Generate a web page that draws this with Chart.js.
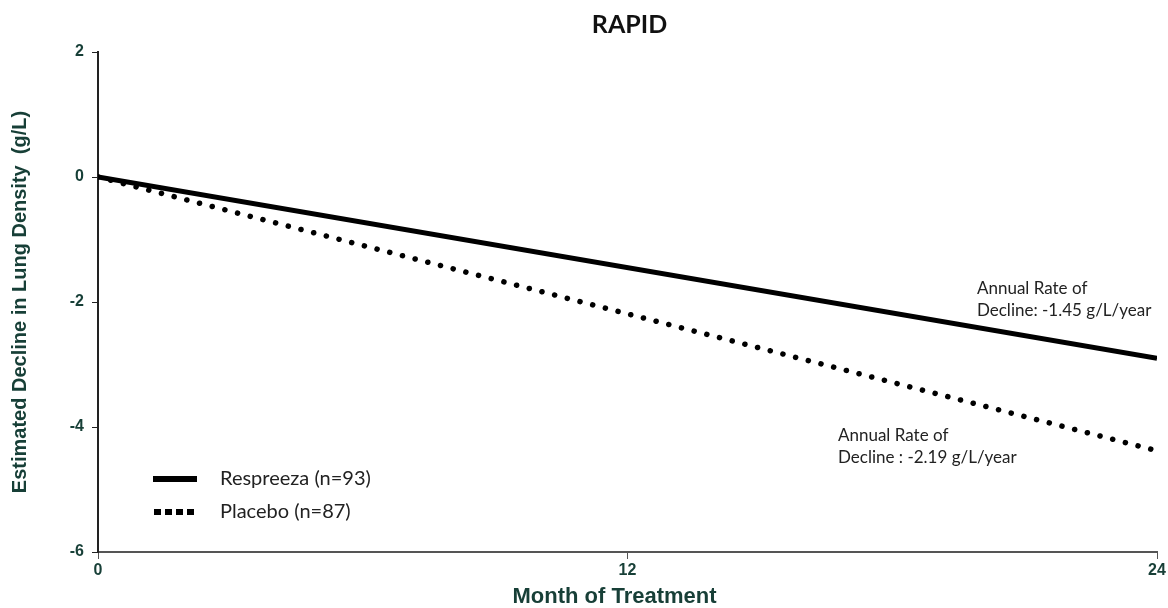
<!DOCTYPE html>
<html>
<head>
<meta charset="utf-8">
<script src="https://cdn.jsdelivr.net/npm/chart.js@4/dist/chart.umd.min.js"></script>
<style>
  html, body { margin: 0; padding: 0; background: #fff; }
  #wrap { width: 1168px; height: 608px; }
</style>
</head>
<body>
<div id="wrap"><canvas id="chart" width="1168" height="608"></canvas></div>
<script>
// Months of treatment (x) and estimated decline (g/L)
const months = [0, 24];
const respreeza = [0, -2.9];
const placebo = [0, -4.38];
const seriesLabels = ['Respreeza (n=93)', 'Placebo (n=87)'];
const xTicks = [0, 12, 24];
const yTicks = [2, 0, -2, -4, -6];
const chartTitle = 'RAPID';
const xTitle = 'Month of Treatment';

// text notes, anchored at data coordinates (middle of first line)
const notes = [
  { x: 19.92, y: -1.78, lines: ['Annual Rate of', 'Decline: -1.45 g/L/year'] },
  { x: 16.77, y: -4.14, lines: ['Annual Rate of', 'Decline : -2.19 g/L/year'] }
];

const labelColor = '#173f37';
const bodyFont = "Lato, 'Open Sans', sans-serif";
const axisFont = "'Liberation Sans', Arial, sans-serif";

const notesPlugin = {
  id: 'notes',
  afterDatasetsDraw(chart) {
    const ctx = chart.ctx;
    const xs = chart.scales.x, ys = chart.scales.y;
    ctx.save();
    ctx.fillStyle = '#222';
    ctx.font = '17px ' + bodyFont;
    ctx.textAlign = 'left';
    ctx.textBaseline = 'middle';
    notes.forEach(n => {
      const px = xs.getPixelForValue(n.x);
      const py = ys.getPixelForValue(n.y);
      n.lines.forEach((t, i) => ctx.fillText(t, px, py + i * 22));
    });
    ctx.restore();
  }
};

// chart title and x axis title, centred a little off the plot area like the original
const titlePlugin = {
  id: 'plotTitle',
  afterDraw(chart) {
    const ctx = chart.ctx;
    const area = chart.chartArea;
    const mid = (area.left + area.right) / 2;
    ctx.save();
    ctx.textAlign = 'center';
    ctx.textBaseline = 'middle';
    ctx.fillStyle = '#111';
    ctx.font = 'bold 25px ' + bodyFont;
    ctx.fillText(chartTitle, mid + 2, 25);
    ctx.fillStyle = labelColor;
    ctx.font = 'bold 22px ' + axisFont;
    ctx.fillText(xTitle, mid - 13, 597);
    ctx.restore();
  }
};

// legend drawn inside the plot area, lower left
const insideLegend = {
  id: 'insideLegend',
  afterDatasetsDraw(chart) {
    const ctx = chart.ctx;
    const area = chart.chartArea;
    const x0 = area.left + 55, y0 = area.top + 427;
    ctx.save();
    chart.data.datasets.forEach((ds, i) => {
      const y = y0 + i * 33;
      ctx.strokeStyle = '#000';
      ctx.lineWidth = 6;
      if (i === 0) {
        ctx.beginPath();
        ctx.moveTo(x0, y);
        ctx.lineTo(x0 + 44, y);
        ctx.stroke();
      } else {
        ctx.fillStyle = '#000';
        for (let k = 0; k < 4; k++) ctx.fillRect(x0 + 1 + k * 11, y - 3, 7, 6);
      }
      ctx.fillStyle = '#222';
      ctx.font = '20px ' + bodyFont;
      ctx.textBaseline = 'middle';
      ctx.fillText(ds.label, x0 + 67, y);
    });
    ctx.restore();
  }
};

new Chart(document.getElementById('chart'), {
  type: 'line',
  data: {
    datasets: [
      {
        label: seriesLabels[0],
        data: months.map((m, i) => ({ x: m, y: respreeza[i] })),
        borderColor: '#000',
        borderWidth: 5,
        pointRadius: 0
      },
      {
        label: seriesLabels[1],
        data: months.map((m, i) => ({ x: m, y: placebo[i] })),
        borderColor: '#000',
        borderWidth: 5.5,
        borderDash: [0.1, 13],
        borderCapStyle: 'round',
        pointRadius: 0
      }
    ]
  },
  options: {
    responsive: false,
    animation: false,
    layout: { padding: { top: 52, left: 0, right: 11, bottom: 0 } },
    plugins: {
      legend: { display: false },
      tooltip: { enabled: false },
      title: { display: false }
    },
    scales: {
      x: {
        type: 'linear',
        min: 0,
        max: 24,
        afterBuildTicks: s => { s.ticks = xTicks.map(v => ({ value: v })); },
        afterFit: s => { s.height = 56; },
        grid: { display: true, drawOnChartArea: false, tickLength: 7, color: '#555' },
        border: { color: '#555', width: 2 },
        ticks: {
          color: labelColor,
          padding: 2,
          font: { family: axisFont, size: 16, weight: 'bold' }
        },
        title: { display: false }
      },
      y: {
        min: -6,
        max: 2,
        afterBuildTicks: s => { s.ticks = yTicks.map(v => ({ value: v })); },
        afterFit: s => { s.width = 98; },
        grid: { display: true, drawOnChartArea: false, tickLength: 6, color: '#222' },
        border: { color: '#222', width: 2 },
        ticks: {
          color: labelColor,
          padding: 8,
          font: { family: axisFont, size: 16, weight: 'bold' }
        },
        title: {
          display: true,
          text: 'Estimated Decline in Lung Density  (g/L)',
          color: labelColor,
          padding: { top: 8, bottom: 0 },
          font: { family: axisFont, size: 20, weight: 'bold' }
        }
      }
    }
  },
  plugins: [notesPlugin, insideLegend, titlePlugin]
});
</script>
</body>
</html>
